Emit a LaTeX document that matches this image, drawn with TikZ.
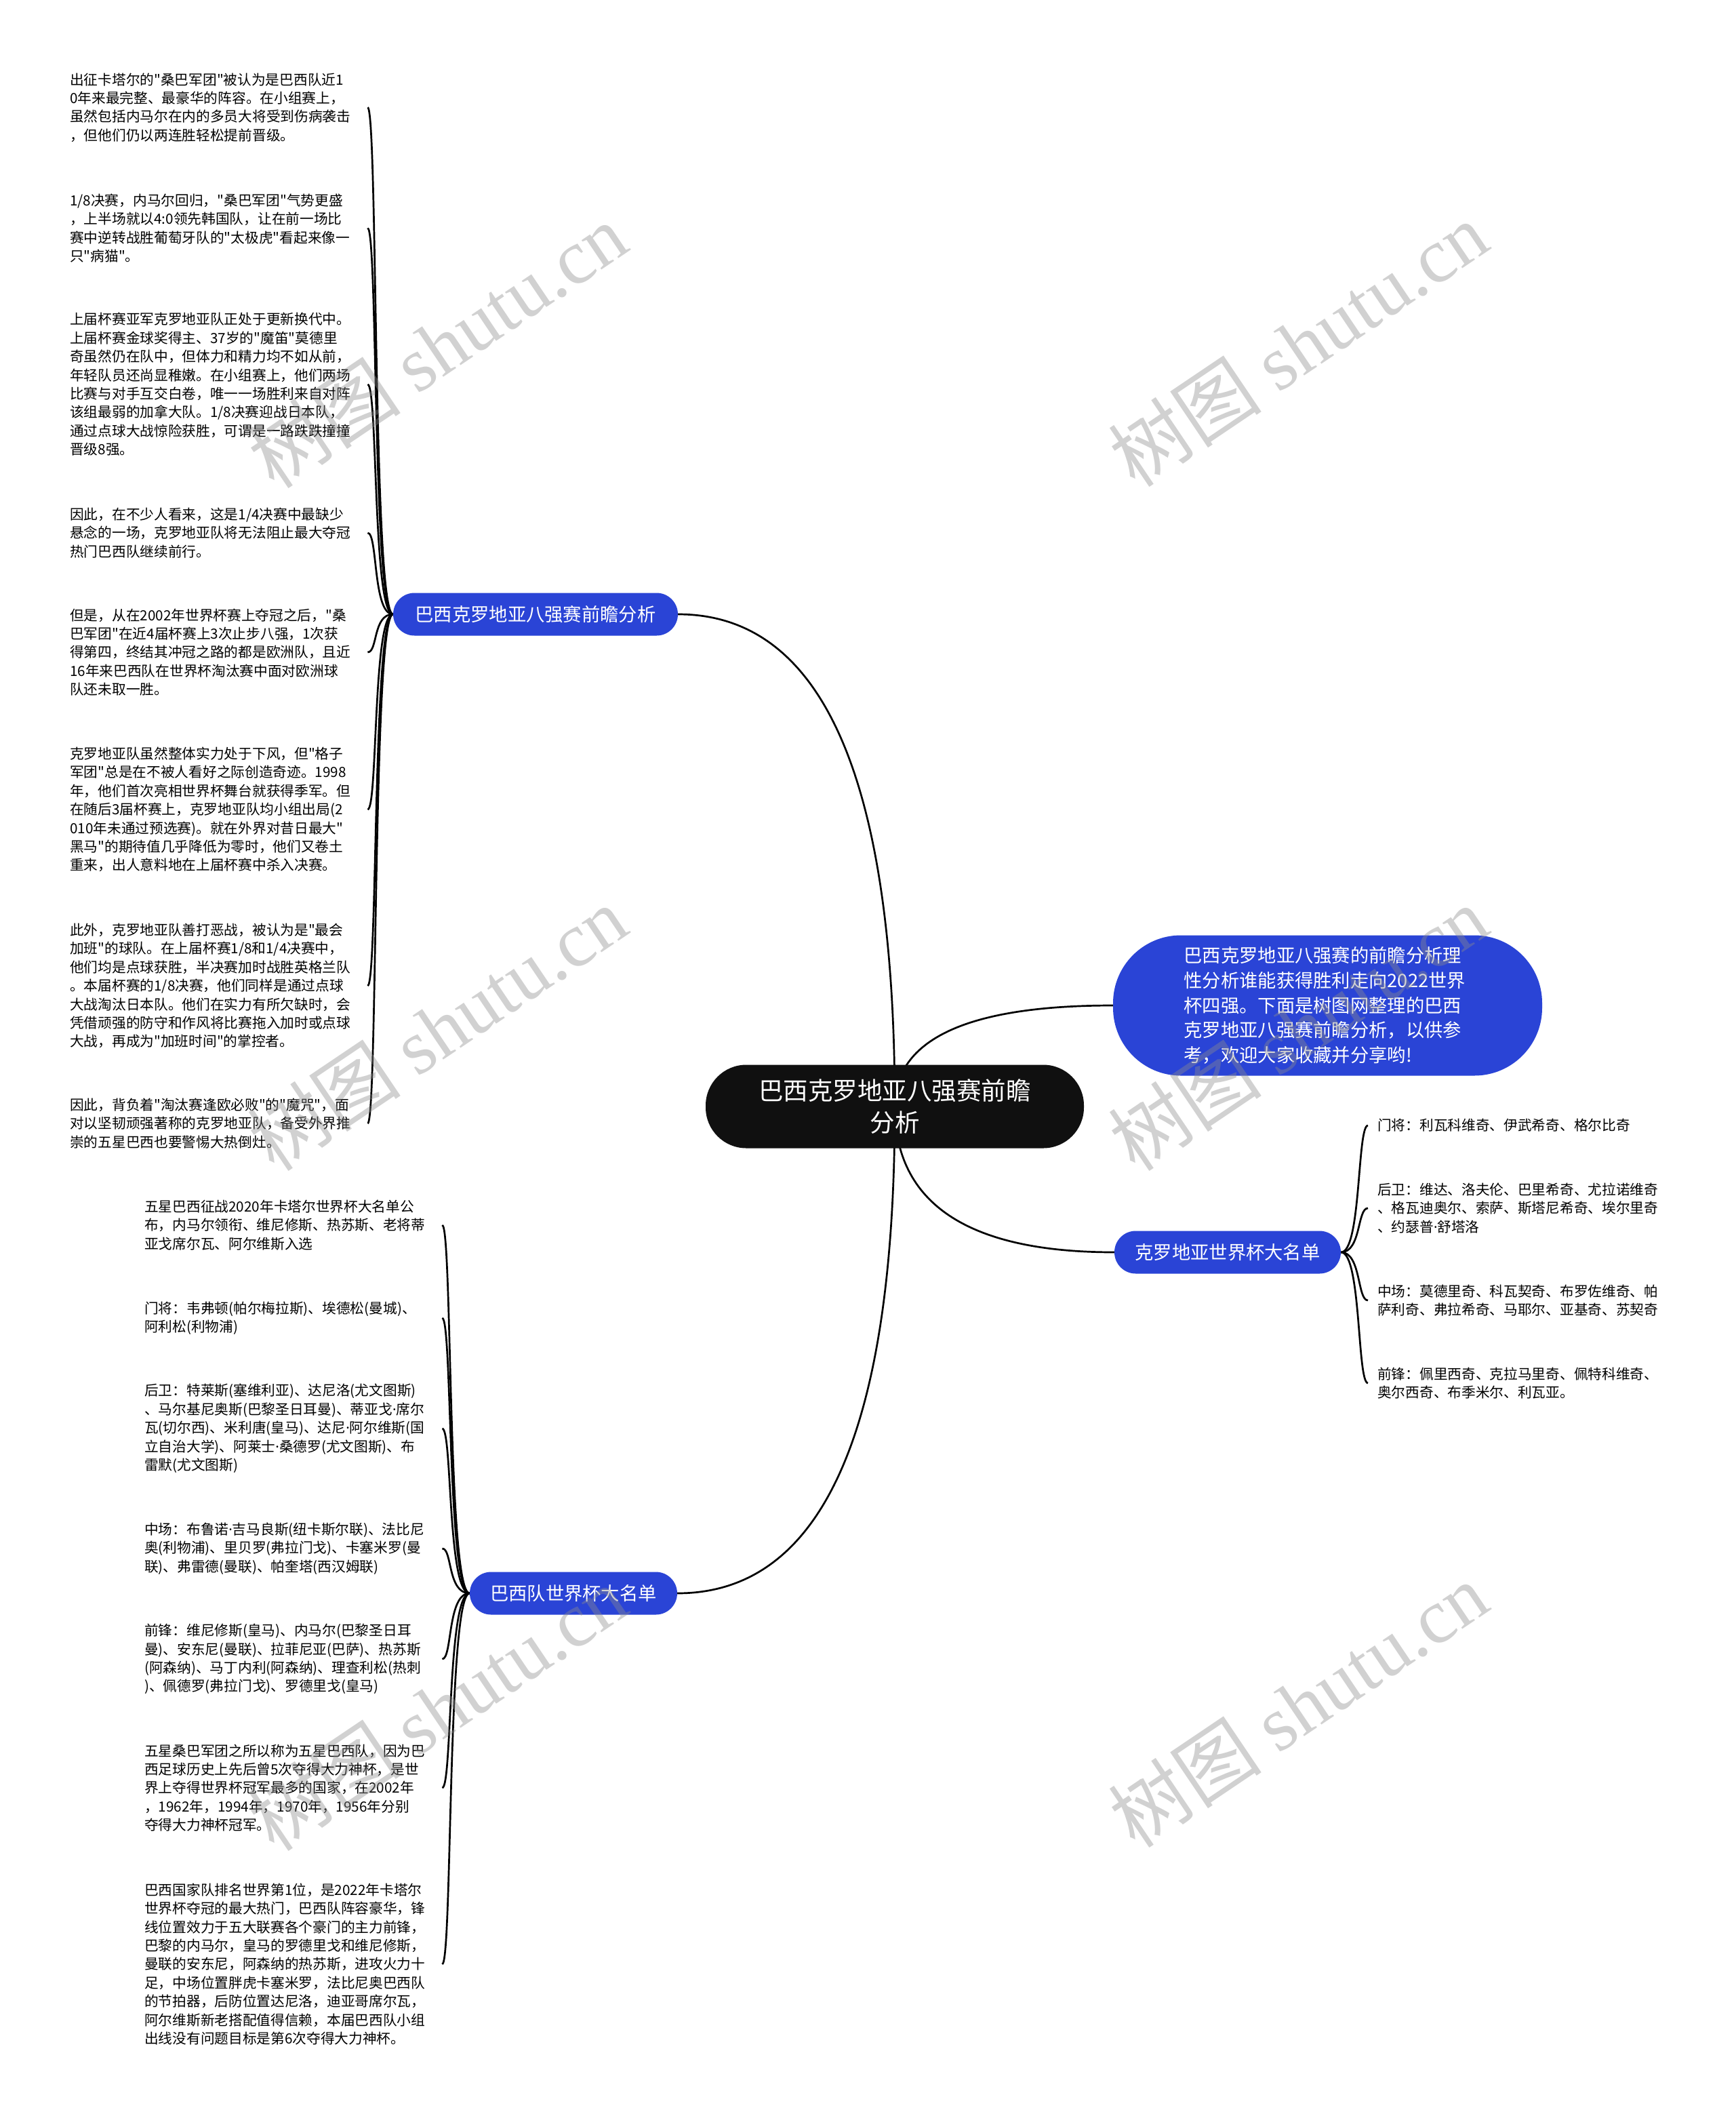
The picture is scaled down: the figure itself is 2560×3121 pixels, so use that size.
\documentclass[tikz,border=0pt]{standalone}
\usepackage{fontspec}
\setmainfont{Noto Sans CJK SC}[Ligatures=TeXOff]
\newfontfamily\wmlatin{Liberation Serif}
\newfontfamily\dotfnt{Noto Sans}
\newcommand\mydot{{\dotfnt ·}}
\usetikzlibrary{calc}
\definecolor{nodeblue}{RGB}{42,68,214}
\definecolor{rootblack}{RGB}{16,16,16}
\definecolor{wmgray}{RGB}{140,140,140}
\newcommand\lffont{\fontsize{20.7pt}{27.4pt}\selectfont}
\newcommand\brfont{\fontsize{27.3pt}{36.8pt}\selectfont}
\newcommand\rtfont{\fontsize{36.5pt}{47pt}\selectfont}
\newcommand\wmfont{\fontsize{114pt}{120pt}\selectfont}
\pgfdeclarelayer{bglayer}
\pgfdeclarelayer{linelayer}
\pgfsetlayers{bglayer,linelayer,main}
\begin{document}
\begin{tikzpicture}[x=1pt,y=-1pt,
  conn/.style={line width=2.7pt,black},
  leafL/.style={anchor=west,inner sep=0pt,text width=439pt,align=left,font=\lffont},
  leafR/.style={anchor=west,inner xsep=14pt,inner ysep=0pt,align=left,font=\lffont},
  branch/.style={fill=nodeblue,text=white,font=\brfont,rounded corners=31.5pt,minimum height=63pt,inner sep=0pt},
  wm/.style={rotate=34,text=wmgray,opacity=0.4,font=\wmfont,inner sep=0pt}]
\begin{pgfonlayer}{bglayer}
\fill[white] (0,0) rectangle (2560,3121);
\end{pgfonlayer}
\useasboundingbox (0,0) rectangle (2560,3121);

% root
\node[fill=rootblack,text=white,font=\rtfont,rounded corners=60pt,minimum width=558pt,minimum height=123pt,align=center,inner sep=0pt] (root) at (1320,1632) {巴西克罗地亚八强赛前瞻\\分析};

% branches
\node[branch,minimum width=420pt] (b1) at (790,906) {巴西克罗地亚八强赛前瞻分析};
\node[branch,minimum width=306pt] (b2) at (846,2350) {巴西队世界杯大名单};
\node[branch,minimum width=334pt] (b4) at (1811,1847) {克罗地亚世界杯大名单};
\node[fill=nodeblue,text=white,font=\brfont,rounded corners=100pt,minimum width=633pt,minimum height=207pt,inner sep=0pt,text width=424pt,align=left] (desc) at (1958.5,1483) {巴西克罗地亚八强赛的前瞻分析理\\性分析谁能获得胜利走向2022世界\\杯四强。下面是树图网整理的巴西\\克罗地亚八强赛前瞻分析，以供参\\考，欢迎大家收藏并分享哟!};

% left group 1
\node[leafL] (L1) at (103,158.5) {出征卡塔尔的"桑巴军团"被认为是巴西队近1\\0年来最完整、最豪华的阵容。在小组赛上，\\虽然包括内马尔在内的多员大将受到伤病袭击\\，但他们仍以两连胜轻松提前晋级。};
\node[leafL] (L2) at (103,336.5) {1/8决赛，内马尔回归，"桑巴军团"气势更盛\\，上半场就以4:0领先韩国队，让在前一场比\\赛中逆转战胜葡萄牙队的"太极虎"看起来像一\\只"病猫"。};
\node[leafL] (L3) at (103,567) {上届杯赛亚军克罗地亚队正处于更新换代中。\\上届杯赛金球奖得主、37岁的"魔笛"莫德里\\奇虽然仍在队中，但体力和精力均不如从前，\\年轻队员还尚显稚嫩。在小组赛上，他们两场\\比赛与对手互交白卷，唯一一场胜利来自对阵\\该组最弱的加拿大队。1/8决赛迎战日本队，\\通过点球大战惊险获胜，可谓是一路跌跌撞撞\\晋级8强。};
\node[leafL] (L4) at (103,786) {因此，在不少人看来，这是1/4决赛中最缺少\\悬念的一场，克罗地亚队将无法阻止最大夺冠\\热门巴西队继续前行。};
\node[leafL] (L5) at (103,962) {但是，从在2002年世界杯赛上夺冠之后，"桑\\巴军团"在近4届杯赛上3次止步八强，1次获\\得第四，终结其冲冠之路的都是欧洲队，且近\\16年来巴西队在世界杯淘汰赛中面对欧洲球\\队还未取一胜。};
\node[leafL] (L6) at (103,1194) {克罗地亚队虽然整体实力处于下风，但"格子\\军团"总是在不被人看好之际创造奇迹。1998\\年，他们首次亮相世界杯舞台就获得季军。但\\在随后3届杯赛上，克罗地亚队均小组出局(2\\010年未通过预选赛)。就在外界对昔日最大"\\黑马"的期待值几乎降低为零时，他们又卷土\\重来，出人意料地在上届杯赛中杀入决赛。};
\node[leafL] (L7) at (103,1454) {此外，克罗地亚队善打恶战，被认为是"最会\\加班"的球队。在上届杯赛1/8和1/4决赛中，\\他们均是点球获胜，半决赛加时战胜英格兰队\\。本届杯赛的1/8决赛，他们同样是通过点球\\大战淘汰日本队。他们在实力有所欠缺时，会\\凭借顽强的防守和作风将比赛拖入加时或点球\\大战，再成为"加班时间"的掌控者。};
\node[leafL] (L8) at (103,1657) {因此，背负着"淘汰赛逢欧必败"的"魔咒"，面\\对以坚韧顽强著称的克罗地亚队，备受外界推\\崇的五星巴西也要警惕大热倒灶。};

% left group 2
\node[leafL] (M1) at (213,1807) {五星巴西征战2020年卡塔尔世界杯大名单公\\布，内马尔领衔、维尼修斯、热苏斯、老将蒂\\亚戈席尔瓦、阿尔维斯入选};
\node[leafL] (M2) at (213,1944) {门将：韦弗顿(帕尔梅拉斯)、埃德松(曼城)、\\阿利松(利物浦)};
\node[leafL] (M3) at (213,2107) {后卫：特莱斯(塞维利亚)、达尼洛(尤文图斯)\\、马尔基尼奥斯(巴黎圣日耳曼)、蒂亚戈\mydot 席尔\\瓦(切尔西)、米利唐(皇马)、达尼\mydot 阿尔维斯(国\\立自治大学)、阿莱士\mydot 桑德罗(尤文图斯)、布\\雷默(尤文图斯)};
\node[leafL] (M4) at (213,2284) {中场：布鲁诺\mydot 吉马良斯(纽卡斯尔联)、法比尼\\奥(利物浦)、里贝罗(弗拉门戈)、卡塞米罗(曼\\联)、弗雷德(曼联)、帕奎塔(西汉姆联)};
\node[leafL] (M5) at (213,2447) {前锋：维尼修斯(皇马)、内马尔(巴黎圣日耳\\曼)、安东尼(曼联)、拉菲尼亚(巴萨)、热苏斯\\(阿森纳)、马丁内利(阿森纳)、理查利松(热刺\\)、佩德罗(弗拉门戈)、罗德里戈(皇马)};
\node[leafL] (M6) at (213,2637) {五星桑巴军团之所以称为五星巴西队，因为巴\\西足球历史上先后曾5次夺得大力神杯，是世\\界上夺得世界杯冠军最多的国家，在2002年\\，1962年，1994年，1970年，1956年分别\\夺得大力神杯冠军。};
\node[leafL] (M7) at (213,2897) {巴西国家队排名世界第1位，是2022年卡塔尔\\世界杯夺冠的最大热门，巴西队阵容豪华，锋\\线位置效力于五大联赛各个豪门的主力前锋，\\巴黎的内马尔，皇马的罗德里戈和维尼修斯，\\曼联的安东尼，阿森纳的热苏斯，进攻火力十\\足，中场位置胖虎卡塞米罗，法比尼奥巴西队\\的节拍器，后防位置达尼洛，迪亚哥席尔瓦，\\阿尔维斯新老搭配值得信赖，本届巴西队小组\\出线没有问题目标是第6次夺得大力神杯。};

% right group
\node[leafR] (R1) at (2018,1660) {门将：利瓦科维奇、伊武希奇、格尔比奇};
\node[leafR] (R2) at (2018,1782) {后卫：维达、洛夫伦、巴里希奇、尤拉诺维奇\\、格瓦迪奥尔、索萨、斯塔尼希奇、埃尔里奇\\、约瑟普\mydot 舒塔洛};
\node[leafR] (R3) at (2018,1918) {中场：莫德里奇、科瓦契奇、布罗佐维奇、帕\\萨利奇、弗拉希奇、马耶尔、亚基奇、苏契奇};
\node[leafR] (R4) at (2018,2040) {前锋：佩里西奇、克拉马里奇、佩特科维奇、\\奥尔西奇、布季米尔、利瓦亚。};

\begin{pgfonlayer}{linelayer}
\coordinate (k1) at (root.center |- b1.east);
\coordinate (k2) at (root.center |- desc.west);
\coordinate (k3) at (root.center |- b4.west);
\coordinate (k4) at (root.center |- b2.east);
\draw[conn] (root.center) .. controls ($(root.center)!0.6667!(k1)$) and ($(b1.east)!0.6667!(k1)$) .. (b1.east);
\draw[conn] (root.center) .. controls ($(root.center)!0.6667!(k2)$) and ($(desc.west)!0.6667!(k2)$) .. (desc.west);
\draw[conn] (root.center) .. controls ($(root.center)!0.6667!(k3)$) and ($(b4.west)!0.6667!(k3)$) .. (b4.west);
\draw[conn] (root.center) .. controls ($(root.center)!0.6667!(k4)$) and ($(b2.east)!0.6667!(k4)$) .. (b2.east);
\foreach \n in {L1,L2,L3,L4,L5,L6,L7,L8}
  \draw[conn] (b1.west) .. controls +(-30,0) and +(15,0) .. (\n.east);
\foreach \n in {M1,M2,M3,M4,M5,M6,M7}
  \draw[conn] (b2.west) .. controls +(-33,0) and +(15,0) .. (\n.east);
\foreach \n in {R1,R2,R3,R4}
  \draw[conn] (b4.east) .. controls +(30,0) and +(-16,0) .. (\n.west);
\end{pgfonlayer}

% watermarks
\node[wm] (w1) at (645,510) {树图 {\wmlatin shutu.cn}};
\node[wm] (w2) at (1915,508) {树图 {\wmlatin shutu.cn}};
\node[wm] (w3) at (645,1517) {树图 {\wmlatin shutu.cn}};
\node[wm] (w4) at (1915,1517) {树图 {\wmlatin shutu.cn}};
\node[wm] (w5) at (645,2520) {树图 {\wmlatin shutu.cn}};
\node[wm] (w6) at (1915,2515) {树图 {\wmlatin shutu.cn}};
\end{tikzpicture}
\end{document}
